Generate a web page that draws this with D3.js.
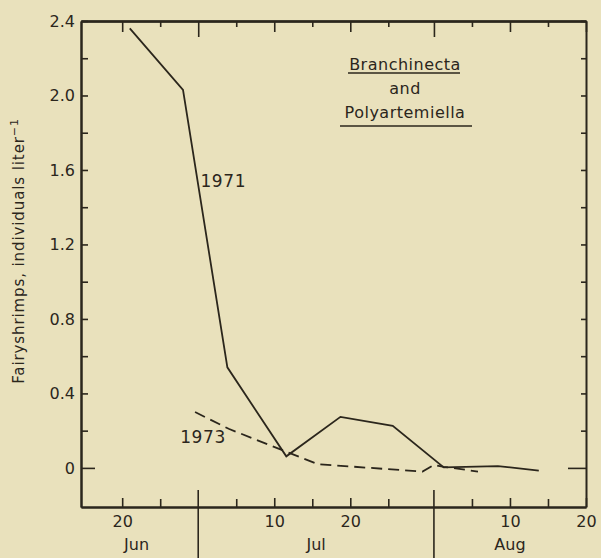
<!DOCTYPE html>
<html><head><meta charset="utf-8">
<script src="https://cdn.jsdelivr.net/npm/d3@7"></script>
<style>
html,body{margin:0;padding:0;background:#e9e1bc;}
svg{display:block;}
text{font-family:"DejaVu Sans",sans-serif;fill:#2b261c;}
</style></head><body>
<svg id="chart" width="601" height="558"></svg>
<script>
const parse = d3.timeParse("%Y-%m-%d %H");

// --- data (all plotted on one calendar axis) ---
const dates1971 = ["1971-06-21 00","1971-06-28 00","1971-07-03 20","1971-07-11 14","1971-07-18 17","1971-07-25 14","1971-08-01 07","1971-08-08 10","1971-08-13 19"];
const values1971 = [2.36, 2.03, 0.54, 0.062, 0.274, 0.226, 0.003, 0.01, -0.015];
const dates1973 = ["1971-06-29 14","1971-07-04 00","1971-07-15 17","1971-07-29 12","1971-07-31 00","1971-08-01 07","1971-08-03 08","1971-08-05 19"];
const values1973 = [0.30, 0.21, 0.02, -0.02, 0.016, 0.005, -0.005, -0.02];

const seriesNames = ["1971", "1973"];
const seriesLabelDates = ["1971-06-30 07", "1971-06-27 15"];
const seriesLabelValues = [1.51, 0.134];

const yMajorTicks = [0, 0.4, 0.8, 1.2, 1.6, 2.0, 2.4];
const yTickLabels = ["0", "0.4", "0.8", "1.2", "1.6", "2.0", "2.4"];
const yMinorTicks = [0.2, 0.6, 1.0, 1.4, 1.8, 2.2];
const yAllTicks = [0, 0.2, 0.4, 0.6, 0.8, 1.0, 1.2, 1.4, 1.6, 1.8, 2.0, 2.2, 2.4];

const xMajorTicks = ["1971-06-20 00","1971-07-10 00","1971-07-20 00","1971-08-10 00","1971-08-20 00"];
const xMinorTicks = ["1971-06-25 00","1971-07-05 00","1971-07-15 00","1971-07-25 00","1971-08-05 00","1971-08-15 00"];
const monthSeparators = ["1971-06-30 00","1971-07-31 00"];
const monthNames = ["Jun", "Jul", "Aug"];

const yAxisTitle = "Fairyshrimps, individuals liter";
const yAxisTitleSup = "−1";
const legendLines = ["Branchinecta", "and", "Polyartemiella"];

// --- chart ---
const ink = "#2b261c";
const svg = d3.select("#chart");
const L = 81, R = 586, T = 21, B = 507;

const x = d3.scaleTime()
  .domain([parse("1971-06-14 14"), parse("1971-08-20 00")])
  .range([L, R]);
const y = d3.scaleLinear().domain([-0.21, 2.4]).range([B, T]);

function styleAxis(g) {
  g.attr("color", ink).attr("font-size", 16).attr("font-family", "DejaVu Sans, sans-serif");
  g.selectAll(".domain").attr("stroke-width", 2);
  g.selectAll(".tick line").attr("stroke-width", 1.6);
  g.selectAll(".tick text").attr("fill", ink);
}

// left axis
const gl = svg.append("g").attr("transform", `translate(${L},0)`)
  .call(d3.axisLeft(y).tickValues(yMajorTicks).tickSize(-7).tickSizeOuter(0).tickPadding(6)
    .tickFormat((d, i) => yTickLabels[i]));
styleAxis(gl);
gl.selectAll(".tick line").filter(d => d === 0).attr("x2", 14);
const glm = svg.append("g").attr("transform", `translate(${L},0)`)
  .call(d3.axisLeft(y).tickValues(yMinorTicks).tickSize(-7).tickSizeOuter(0).tickFormat(""));
styleAxis(glm);

// right axis
const gr = svg.append("g").attr("transform", `translate(${R},0)`)
  .call(d3.axisRight(y).tickValues(yAllTicks).tickSize(-5).tickSizeOuter(0).tickFormat(""));
styleAxis(gr);
gr.selectAll(".tick line").filter(d => d === 0).attr("x2", -18);

// bottom axis
const xfmt = d3.timeFormat("%-d");
const gb = svg.append("g").attr("transform", `translate(0,${B})`)
  .call(d3.axisBottom(x).tickValues(xMajorTicks.map(parse)).tickSize(-9).tickSizeOuter(0).tickPadding(9)
    .tickFormat(xfmt));
styleAxis(gb);
const gbm = svg.append("g").attr("transform", `translate(0,${B})`)
  .call(d3.axisBottom(x).tickValues(xMinorTicks.map(parse)).tickSize(-8).tickSizeOuter(0).tickFormat(""));
styleAxis(gbm);

// top axis
const gt = svg.append("g").attr("transform", `translate(0,${T})`)
  .call(d3.axisTop(x).tickValues(xMajorTicks.map(parse)).tickSize(-11).tickSizeOuter(0).tickFormat(""));
styleAxis(gt);
const gtm = svg.append("g").attr("transform", `translate(0,${T})`)
  .call(d3.axisTop(x).tickValues(xMinorTicks.map(parse)).tickSize(-6).tickSizeOuter(0).tickFormat(""));
styleAxis(gtm);
const gts = svg.append("g").attr("transform", `translate(0,${T})`)
  .call(d3.axisTop(x).tickValues(monthSeparators.map(parse)).tickSize(-16).tickSizeOuter(0).tickFormat(""));
styleAxis(gts);

// month separators below the axis
svg.append("g").selectAll("line").data(monthSeparators.map(parse)).join("line")
  .attr("x1", d => x(d)).attr("x2", d => x(d))
  .attr("y1", B - 17).attr("y2", 558)
  .attr("stroke", ink).attr("stroke-width", 1.6);

// month names centred in the visible span of each month
const bounds = [L].concat(monthSeparators.map(s => x(parse(s)))).concat([R]);
svg.append("g").selectAll("text").data(monthNames).join("text")
  .attr("x", (d, i) => (bounds[i] + bounds[i + 1]) / 2 - (i === 0 ? 3 : 0))
  .attr("y", 550)
  .attr("text-anchor", "middle")
  .attr("font-size", 16)
  .text(d => d);

// y-axis title
const yt = svg.append("text")
  .attr("transform", "translate(24,251) rotate(-90)")
  .attr("text-anchor", "middle")
  .attr("font-size", 15)
  .attr("letter-spacing", 0.9);
yt.append("tspan").text(yAxisTitle);
yt.append("tspan").attr("dy", -6).attr("font-size", 11).text(yAxisTitleSup);

// lines
const line = d3.line().x(d => x(d[0])).y(d => y(d[1]));
const data1971 = dates1971.map((d, i) => [parse(d), values1971[i]]);
const data1973 = dates1973.map((d, i) => [parse(d), values1973[i]]);
svg.append("path").datum(data1971).attr("d", line)
  .attr("fill", "none").attr("stroke", ink).attr("stroke-width", 1.8).attr("stroke-linejoin", "miter");
svg.append("path").datum(data1973).attr("d", line)
  .attr("fill", "none").attr("stroke", ink).attr("stroke-width", 1.8).attr("stroke-dasharray", "11,6");

// series labels
svg.append("g").selectAll("text").data(seriesNames).join("text")
  .attr("x", (d, i) => x(parse(seriesLabelDates[i])))
  .attr("y", (d, i) => y(seriesLabelValues[i]))
  .attr("font-size", 17)
  .attr("letter-spacing", 0.6)
  .text(d => d);

// legend block
const legY = [70, 94, 118];
const lg = svg.append("g");
legendLines.forEach((t, i) => {
  lg.append("text").attr("x", 405).attr("y", legY[i]).attr("text-anchor", "middle")
    .attr("font-size", 16).attr("letter-spacing", 0.5).text(t);
});
[[348, 460, 73], [340, 472, 126]].forEach(u => {
  lg.append("line").attr("x1", u[0]).attr("x2", u[1]).attr("y1", u[2]).attr("y2", u[2])
    .attr("stroke", ink).attr("stroke-width", 1.6);
});
</script>
</body></html>
